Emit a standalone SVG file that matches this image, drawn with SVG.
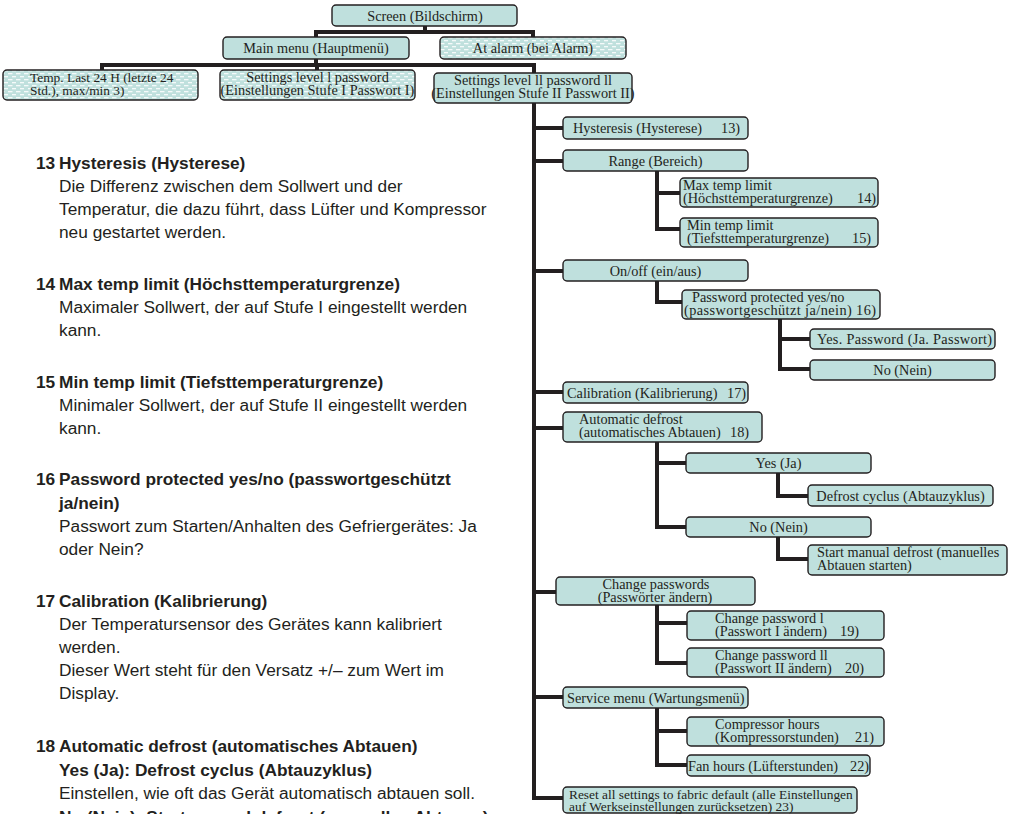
<svg xmlns="http://www.w3.org/2000/svg" width="1013" height="814" viewBox="0 0 1013 814">
<style>
.bx{fill:#bfe0dd;stroke:#231f20;stroke-width:1.4}
.ht{fill:url(#hatch);stroke:#231f20;stroke-width:1.4}
.t{font-family:"Liberation Serif","Times New Roman",serif;font-size:14.3px;fill:#231f20}
.s{font-size:13.4px}
.c{text-anchor:middle}
.e{text-anchor:end}
.cn{fill:none;stroke:#231f20;stroke-width:4;stroke-linejoin:miter;stroke-linecap:butt}
.lt{font-family:"Liberation Sans",Arial,sans-serif;font-size:17.3px;fill:#231f20}
.b{font-weight:bold}
</style>
<defs>
<pattern id="hatch" patternUnits="userSpaceOnUse" width="8" height="6">
<rect width="8" height="6" fill="#bfe0dd"/>
<rect x="0" y="1" width="4.5" height="1.3" fill="#ffffff" opacity="0.85"/>
<rect x="4" y="4" width="4.5" height="1.3" fill="#ffffff" opacity="0.85"/>
</pattern>
</defs>
<rect width="1013" height="814" fill="#ffffff"/>

<g id="connectors">
<path class="cn" d="M425 26V32M316 37V32H533V37"/>
<path class="cn" d="M316 59V65M102 70V65H534V73M317 65V70"/>
<path class="cn" d="M534 103V798H563"/>
<path class="cn" d="M534 128H563M534 161H563M534 271H563M534 392H563M534 428H563M534 592H556M534 697H563"/>
<path class="cn" d="M657 171V229H680M657 193H680"/>
<path class="cn" d="M657 281V302H682"/>
<path class="cn" d="M780 319V369H810M780 339H810"/>
<path class="cn" d="M657 442V527H686M657 463H686"/>
<path class="cn" d="M778 473V496H808"/>
<path class="cn" d="M778 537V559H808"/>
<path class="cn" d="M657 605V663H687M657 623H687"/>
<path class="cn" d="M657 708V765H687M657 731H687"/>
</g>

<g id="screen"><rect class="bx" x="332" y="5" width="185" height="21" rx="4"/><text class="t c" x="425" y="20.5">Screen (Bildschirm)</text></g>
<g id="mainmenu"><rect class="bx" x="223" y="37" width="186" height="22" rx="4"/><text class="t c" x="316" y="53">Main menu (Hauptmenü)</text></g>
<g id="alarm"><rect class="ht" x="440" y="37" width="186" height="22" rx="4"/><text class="t c" x="533" y="53">At alarm (bei Alarm)</text></g>
<g id="temp"><rect class="ht" x="3" y="70" width="195" height="30" rx="4"/><text class="t s"><tspan x="30" y="82">Temp. Last 24 H (letzte 24</tspan><tspan x="30" y="95">Std.), max/min 3)</tspan></text></g>
<g id="settings1"><rect class="ht" x="220" y="70" width="195" height="30" rx="4"/><text class="t c"><tspan x="317.5" y="82">Settings level l password</tspan><tspan x="317.5" y="95">(Einstellungen Stufe I Passwort I)</tspan></text></g>
<g id="settings2"><rect class="bx" x="434" y="73" width="198" height="30" rx="4"/><text class="t c"><tspan x="533" y="85">Settings level ll password ll</tspan><tspan x="533" y="98">(Einstellungen Stufe II Passwort II)</tspan></text></g>

<g id="hysteresis"><rect class="bx" x="563" y="117" width="185" height="22" rx="4"/><text class="t"><tspan x="573" y="133">Hysteresis (Hysterese)</tspan><tspan x="721" y="133">13)</tspan></text></g>
<g id="range"><rect class="bx" x="563" y="150" width="185" height="21" rx="4"/><text class="t c" x="655.5" y="165.5">Range (Bereich)</text></g>
<g id="maxtemp"><rect class="bx" x="680" y="178" width="198" height="29" rx="4"/><text class="t"><tspan x="683" y="190">Max temp limit</tspan><tspan x="683" y="203">(Höchsttemperaturgrenze)</tspan><tspan x="857" y="203">14)</tspan></text></g>
<g id="mintemp"><rect class="bx" x="680" y="218" width="198" height="29" rx="4"/><text class="t"><tspan x="687" y="230">Min temp limit</tspan><tspan x="687" y="243">(Tiefsttemperaturgrenze)</tspan><tspan x="852" y="243">15)</tspan></text></g>
<g id="onoff"><rect class="bx" x="563" y="260" width="185" height="21" rx="4"/><text class="t c" x="655.5" y="275.5">On/off (ein/aus)</text></g>
<g id="pwprotected"><rect class="bx" x="682" y="290" width="198" height="29" rx="4"/><text class="t"><tspan x="692" y="302">Password protected yes/no</tspan><tspan x="684" y="315" textLength="192" lengthAdjust="spacing">(passwortgeschützt ja/nein) 16)</tspan></text></g>
<g id="yespw"><rect class="bx" x="810" y="329" width="185" height="20" rx="4"/><text class="t" x="817" y="344" textLength="175" lengthAdjust="spacing">Yes. Password  (Ja. Passwort)</text></g>
<g id="nopw"><rect class="bx" x="810" y="360" width="185" height="20" rx="4"/><text class="t c" x="902.5" y="375">No (Nein)</text></g>
<g id="calibration"><rect class="bx" x="563" y="382" width="185" height="21" rx="4"/><text class="t"><tspan x="567" y="397.5">Calibration (Kalibrierung)</tspan><tspan x="727" y="397.5">17)</tspan></text></g>
<g id="autodefrost"><rect class="bx" x="563" y="412" width="199" height="30" rx="4"/><text class="t"><tspan x="579" y="424">Automatic defrost</tspan><tspan x="579" y="437">(automatisches Abtauen)</tspan><tspan x="730" y="437">18)</tspan></text></g>
<g id="yesja"><rect class="bx" x="686" y="453" width="185" height="20" rx="4"/><text class="t c" x="778.5" y="468">Yes (Ja)</text></g>
<g id="defrostcyclus"><rect class="bx" x="808" y="485" width="185" height="21" rx="4"/><text class="t c" x="900.5" y="500.5">Defrost cyclus (Abtauzyklus)</text></g>
<g id="nonein"><rect class="bx" x="686" y="517" width="185" height="20" rx="4"/><text class="t c" x="778.5" y="532">No (Nein)</text></g>
<g id="manualdefrost"><rect class="bx" x="808" y="545" width="199" height="30" rx="4"/><text class="t"><tspan x="817" y="557">Start manual defrost (manuelles</tspan><tspan x="817" y="570">Abtauen starten)</tspan></text></g>
<g id="changepw"><rect class="bx" x="556" y="577" width="199" height="28" rx="4"/><text class="t c"><tspan x="656" y="589">Change passwords</tspan><tspan x="655" y="602">(Passwörter ändern)</tspan></text></g>
<g id="changepw1"><rect class="bx" x="687" y="611" width="197" height="29" rx="4"/><text class="t"><tspan x="715" y="623">Change password l</tspan><tspan x="715" y="636">(Passwort I ändern)</tspan><tspan x="840" y="636">19)</tspan></text></g>
<g id="changepw2"><rect class="bx" x="687" y="648" width="197" height="29" rx="4"/><text class="t"><tspan x="715" y="660">Change password ll</tspan><tspan x="715" y="673">(Passwort II ändern)</tspan><tspan x="845" y="673">20)</tspan></text></g>
<g id="servicemenu"><rect class="bx" x="563" y="687" width="185" height="21" rx="4"/><text class="t" x="567" y="702.5">Service menu (Wartungsmenü)</text></g>
<g id="compressor"><rect class="bx" x="687" y="717" width="197" height="29" rx="4"/><text class="t"><tspan x="715" y="729">Compressor hours</tspan><tspan x="715" y="742">(Kompressorstunden)</tspan><tspan x="855" y="742">21)</tspan></text></g>
<g id="fanhours"><rect class="bx" x="687" y="755" width="183" height="21" rx="4"/><text class="t"><tspan x="688" y="770.5">Fan hours (Lüfterstunden)</tspan><tspan x="850" y="770.5">22)</tspan></text></g>
<g id="reset"><rect class="bx" x="563" y="787" width="294" height="26" rx="4"/><text class="t s"><tspan x="569" y="799">Reset all settings to fabric default (alle Einstellungen</tspan><tspan x="569" y="811">auf Werkseinstellungen zurücksetzen) 23)</tspan></text></g>

<g id="notes">
<text class="lt b"><tspan x="36" y="168.5">13</tspan><tspan x="59" y="168.5">Hysteresis (Hysterese)</tspan></text>
<text class="lt"><tspan x="59" y="191.7">Die Differenz zwischen dem Sollwert und der</tspan><tspan x="59" y="214.9">Temperatur, die dazu führt, dass Lüfter und Kompressor</tspan><tspan x="59" y="238.1">neu gestartet werden.</tspan></text>
<text class="lt b"><tspan x="36" y="289.6">14</tspan><tspan x="59" y="289.6">Max temp limit (Höchsttemperaturgrenze)</tspan></text>
<text class="lt"><tspan x="59" y="312.8">Maximaler Sollwert, der auf Stufe I eingestellt werden</tspan><tspan x="59" y="336">kann.</tspan></text>
<text class="lt b"><tspan x="36" y="387.5">15</tspan><tspan x="59" y="387.5">Min temp limit (Tiefsttemperaturgrenze)</tspan></text>
<text class="lt"><tspan x="59" y="410.7">Minimaler Sollwert, der auf Stufe II eingestellt werden</tspan><tspan x="59" y="433.9">kann.</tspan></text>
<text class="lt b"><tspan x="36" y="485.4">16</tspan><tspan x="59" y="485.4">Password protected yes/no (passwortgeschützt</tspan><tspan x="59" y="508.6">ja/nein)</tspan></text>
<text class="lt"><tspan x="59" y="531.8">Passwort zum Starten/Anhalten des Gefriergerätes: Ja</tspan><tspan x="59" y="555">oder Nein?</tspan></text>
<text class="lt b"><tspan x="36" y="606.5">17</tspan><tspan x="59" y="606.5">Calibration (Kalibrierung)</tspan></text>
<text class="lt"><tspan x="59" y="629.7">Der Temperatursensor des Gerätes kann kalibriert</tspan><tspan x="59" y="652.9">werden.</tspan><tspan x="59" y="676.1">Dieser Wert steht für den Versatz +/– zum Wert im</tspan><tspan x="59" y="699.3">Display.</tspan></text>
<text class="lt b"><tspan x="36" y="752">18</tspan><tspan x="59" y="752">Automatic defrost (automatisches Abtauen)</tspan><tspan x="59" y="775.5">Yes (Ja): Defrost cyclus (Abtauzyklus)</tspan></text>
<text class="lt"><tspan x="59" y="799">Einstellen, wie oft das Gerät automatisch abtauen soll.</tspan></text>
<text class="lt b"><tspan x="59" y="822.5">No (Nein): Start manual defrost (manuelles Abtauen)</tspan></text>
</g>
</svg>
